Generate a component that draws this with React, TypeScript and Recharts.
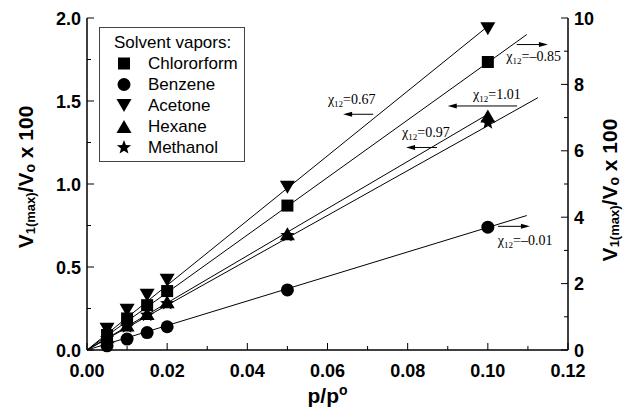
import React from "react";
import { ComposedChart, Scatter, XAxis, YAxis, ReferenceLine, ReferenceDot } from "recharts";

const pressure = [0.005, 0.01, 0.015, 0.02, 0.05, 0.1];
const chloroform = [0.09, 0.19, 0.27, 0.355, 0.87, 1.735];
const benzene = [0.025, 0.066, 0.105, 0.14, 0.362, 0.74];
const acetone = [0.125, 0.24, 0.33, 0.42, 0.98, 1.935];
const hexane = [0.08, 0.15, 0.22, 0.29, 0.7, 1.41];
const methanol = [0.07, 0.14, 0.21, 0.28, 0.69, 1.37];

// fitted lines, start and end
const fitChloroform = [[0, 0], [0.1097, 1.9]];
const fitBenzene = [[0, 0], [0.1097, 0.81]];
const fitAcetone = [[0, 0], [0.1, 1.95]];
const fitHexane = [[0, 0], [0.1, 1.42]];
const fitMethanol = [[0, 0], [0.1125, 1.52]];

const xTicks = [0, 0.01, 0.02, 0.03, 0.04, 0.05, 0.06, 0.07, 0.08, 0.09, 0.1, 0.11, 0.12];
const yTicks = [0, 0.25, 0.5, 0.75, 1, 1.25, 1.5, 1.75, 2];
const y2Ticks = [0, 1, 2, 3, 4, 5, 6, 7, 8, 9, 10];

const chiValues = ["–0.85", "0.67", "1.01", "0.97", "–0.01"];
const chiTextAt = [[0.1046, 1.74], [0.0601, 1.48], [0.0963, 1.51], [0.0786, 1.285], [0.1025, 0.63]];
const chiArrowFrom = [[0.1072, 1.84], [0.0714, 1.42], [0.1073, 1.47], [0.0873, 1.22], [0.1025, 0.745]];
const chiArrowTo = [[0.115, 1.84], [0.0639, 1.42], [0.09, 1.47], [0.0796, 1.22], [0.1105, 0.745]];

const series = [
  { name: "Chlororform", kind: "square", values: chloroform, fit: fitChloroform },
  { name: "Benzene", kind: "circle", values: benzene, fit: fitBenzene },
  { name: "Acetone", kind: "down", values: acetone, fit: fitAcetone },
  { name: "Hexane", kind: "up", values: hexane, fit: fitHexane },
  { name: "Methanol", kind: "star", values: methanol, fit: fitMethanol },
];

const SANS = "Arial, 'Liberation Sans', Helvetica, sans-serif";
const SERIF = "'Times New Roman', 'Liberation Serif', serif";

function Marker({ kind, cx, cy }: { kind: string; cx: number; cy: number }) {
  if (kind === "square") return <rect x={cx - 6} y={cy - 6} width={12} height={12} fill="#000" />;
  if (kind === "circle") return <circle cx={cx} cy={cy} r={6.5} fill="#000" />;
  if (kind === "down")
    return <polygon points={`${cx - 7.5},${cy - 6.5} ${cx + 7.5},${cy - 6.5} ${cx},${cy + 6.5}`} fill="#000" />;
  if (kind === "up")
    return <polygon points={`${cx - 7.5},${cy + 6.5} ${cx + 7.5},${cy + 6.5} ${cx},${cy - 6.5}`} fill="#000" />;
  const pts: string[] = [];
  for (let i = 0; i < 10; i++) {
    const r = i % 2 === 0 ? 7.5 : 3.2;
    const a = -Math.PI / 2 + (i * Math.PI) / 5;
    pts.push(`${cx + r * Math.cos(a)},${cy + r * Math.sin(a)}`);
  }
  return <polygon points={pts.join(" ")} fill="#000" />;
}

const tickFont = { fontFamily: SANS, fontWeight: 700, fontSize: 18, fill: "#000" };

const BottomTick = (p: any) => {
  const major = p.index % 2 === 0;
  return (
    <g>
      <line x1={p.x} x2={p.x} y1={p.y} y2={p.y - (major ? 7 : 4)} stroke="#000" />
      {major && (
        <text x={p.x} y={p.y + 27} textAnchor="middle" {...tickFont}>
          {p.payload.value.toFixed(2)}
        </text>
      )}
    </g>
  );
};

const TopTick = (p: any) => {
  const major = p.index % 2 === 0;
  return <line x1={p.x} x2={p.x} y1={p.y} y2={p.y + (major ? 7 : 4)} stroke="#000" />;
};

const LeftTick = (p: any) => {
  const major = p.index % 2 === 0;
  return (
    <g>
      <line x1={p.x} x2={p.x + (major ? 7 : 4)} y1={p.y} y2={p.y} stroke="#000" />
      {major && (
        <text x={p.x - 6} y={p.y + 6.5} textAnchor="end" {...tickFont}>
          {p.payload.value.toFixed(1)}
        </text>
      )}
    </g>
  );
};

const RightTick = (p: any) => {
  const major = p.index % 2 === 0;
  return (
    <g>
      <line x1={p.x} x2={p.x - (major ? 7 : 4)} y1={p.y} y2={p.y} stroke="#000" />
      {major && (
        <text x={p.x + 6} y={p.y + 6.5} textAnchor="start" {...tickFont}>
          {String(p.payload.value)}
        </text>
      )}
    </g>
  );
};

const YTitle = ({ cx, cy }: { cx: number; cy: number }) => (
  <text
    x={cx}
    y={cy}
    transform={`rotate(-90, ${cx}, ${cy})`}
    textAnchor="middle"
    dominantBaseline="central"
    fontFamily={SANS}
    fontWeight={700}
    fontSize={21}
    fill="#000"
  >
    <tspan>V</tspan>
    <tspan fontSize={13} dy={5}>1(max)</tspan>
    <tspan dy={-5}>/V</tspan>
    <tspan fontSize={14} dy={5}>o</tspan>
    <tspan dy={-5}> x 100</tspan>
  </text>
);

const Arrow = (p: any) => {
  const { x1, y1, x2, y2 } = p;
  const dir = x2 > x1 ? 1 : -1;
  return (
    <g>
      <line x1={x1} y1={y1} x2={x2 - dir * 6} y2={y2} stroke="#000" strokeWidth={1} />
      <polygon points={`${x2},${y2} ${x2 - dir * 9},${y2 - 2.5} ${x2 - dir * 9},${y2 + 2.5}`} fill="#000" />
    </g>
  );
};

const chiLabel = (value: string) => (p: any) => (
  <text x={p.cx} y={p.cy} fontFamily={SERIF} fontSize={14} fill="#000">
    <tspan>χ</tspan>
    <tspan fontSize={9} dy={3}>12</tspan>
    <tspan dy={-3}>={value}</tspan>
  </text>
);

function LegendBox() {
  return (
    <div
      style={{
        position: "absolute",
        left: 91,
        top: 19,
        width: 144,
        height: 129,
        border: "1px solid #444",
        background: "#fff",
        fontFamily: SANS,
        fontSize: 17,
        color: "#000",
        paddingTop: 4,
        boxSizing: "content-box",
      }}
    >
      <div style={{ height: 21, lineHeight: "21px", paddingLeft: 14 }}>Solvent vapors:</div>
      {series.map((s) => (
        <div key={s.name} style={{ height: 21, lineHeight: "21px", display: "flex", alignItems: "center" }}>
          <svg width={48} height={21} style={{ flex: "none" }}>
            <Marker kind={s.kind} cx={24} cy={10.5} />
          </svg>
          <span>{s.name}</span>
        </div>
      ))}
    </div>
  );
}

// the frame axes need a series of their own to be drawn
const frameAnchor = [{ x: 0, y: 0 }];

export default function App() {
  return (
    <div style={{ position: "relative", width: 621, height: 401 }}>
      <ComposedChart width={621} height={401} margin={{ top: 10, right: 0, bottom: 0, left: 0 }}>
        <XAxis
          type="number"
          dataKey="x"
          domain={[0, 0.12]}
          ticks={xTicks}
          interval={0}
          height={59}
          tickSize={0}
          tickMargin={0}
          tickLine={false}
          axisLine={{ stroke: "#000", strokeWidth: 1.5 }}
          tick={BottomTick}
          label={{
            content: (p: any) => {
              const vb = p.viewBox;
              return (
                <text x={vb.x + vb.width / 2} y={vb.y + 53} textAnchor="middle" fontFamily={SANS} fontWeight={700} fontSize={21} fill="#000">
                  p/p<tspan fontSize={14} dy={-8}>o</tspan>
                </text>
              );
            },
          }}
        />
        <XAxis
          xAxisId="top"
          orientation="top"
          type="number"
          dataKey="x"
          domain={[0, 0.12]}
          ticks={xTicks}
          interval={0}
          height={0}
          tickSize={0}
          tickMargin={0}
          tickLine={false}
          axisLine={{ stroke: "#000", strokeWidth: 1.5 }}
          tick={TopTick}
        />
        <YAxis
          type="number"
          dataKey="y"
          domain={[0, 2]}
          ticks={yTicks}
          interval={0}
          width={79}
          tickSize={0}
          tickMargin={0}
          tickLine={false}
          axisLine={{ stroke: "#000", strokeWidth: 1.5 }}
          tick={LeftTick}
          label={{
            content: (p: any) => {
              const vb = p.viewBox;
              return <YTitle cx={vb.x + 17} cy={vb.y + vb.height / 2 - 7} />;
            },
          }}
        />
        <YAxis
          yAxisId="right"
          orientation="right"
          type="number"
          dataKey="y"
          domain={[0, 10]}
          ticks={y2Ticks}
          interval={0}
          width={61}
          tickSize={0}
          tickMargin={0}
          tickLine={false}
          axisLine={{ stroke: "#000", strokeWidth: 1.5 }}
          tick={RightTick}
          label={{
            content: (p: any) => {
              const vb = p.viewBox;
              return <YTitle cx={vb.x + 41} cy={vb.y + vb.height / 2 + 6} />;
            },
          }}
        />
        <Scatter
          xAxisId="top"
          yAxisId="right"
          data={frameAnchor}
          shape={() => <g />}
          isAnimationActive={false}
          legendType="none"
        />
        {series.map((s) => (
          <Scatter
            key={s.name + "-fit"}
            data={s.fit.map(([x, y]) => ({ x, y }))}
            line={{ stroke: "#000", strokeWidth: 1 }}
            shape={() => <g />}
            isAnimationActive={false}
            legendType="none"
          />
        ))}
        {series.map((s) => (
          <Scatter
            key={s.name}
            name={s.name}
            data={pressure.map((x, i) => ({ x, y: s.values[i] }))}
            shape={(p: any) => <Marker kind={s.kind} cx={p.cx} cy={p.cy} />}
            isAnimationActive={false}
          />
        ))}
        {chiValues.map((v, i) => (
          <ReferenceLine
            key={"arrow" + i}
            segment={[
              { x: chiArrowFrom[i][0], y: chiArrowFrom[i][1] },
              { x: chiArrowTo[i][0], y: chiArrowTo[i][1] },
            ]}
            ifOverflow="visible"
            shape={Arrow}
          />
        ))}
        {chiValues.map((v, i) => (
          <ReferenceDot
            key={"chi" + i}
            x={chiTextAt[i][0]}
            y={chiTextAt[i][1]}
            r={0}
            ifOverflow="visible"
            shape={chiLabel(v)}
          />
        ))}
      </ComposedChart>
      <LegendBox />
    </div>
  );
}
